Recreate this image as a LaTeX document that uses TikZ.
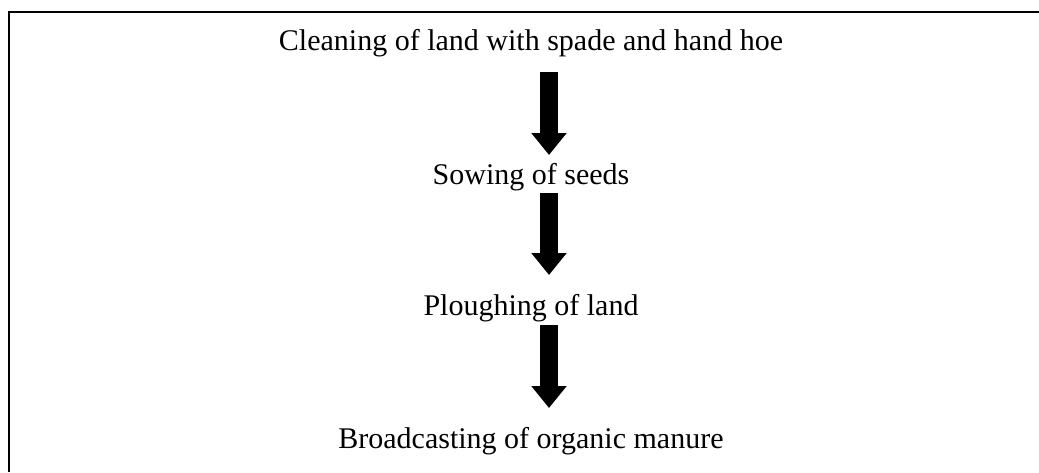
\documentclass[tikz,border=0pt]{standalone}
\usepackage{fontspec}
\setmainfont{Liberation Serif}
\usetikzlibrary{arrows.meta}
\begin{document}
\begin{tikzpicture}[x=1pt,y=-1pt,
  steptext/.style={anchor=base, inner sep=0pt, font=\fontsize{30}{36}\selectfont},
  bigarrow/.style={line width=18pt, -{Triangle[width=34pt,length=22pt]}}]
\useasboundingbox (0,0) rectangle (1039,472);
\fill[white] (0,0) rectangle (1039,472);
\draw[line width=2pt] (9,472) -- (9,12) -- (1039,12);
\node[steptext] (s1) at (531,50) {Cleaning of land with spade and hand hoe};
\node[steptext] (s2) at (531,184) {Sowing of seeds};
\node[steptext] (s3) at (531,315) {Ploughing of land};
\node[steptext] (s4) at (531,448) {Broadcasting of organic manure};
\coordinate (a1s) at (549,72);  \coordinate (a1e) at (549,155);
\coordinate (a2s) at (549,193); \coordinate (a2e) at (549,275);
\coordinate (a3s) at (549,325); \coordinate (a3e) at (549,408);
\draw[bigarrow] (a1s) -- (a1e);
\draw[bigarrow] (a2s) -- (a2e);
\draw[bigarrow] (a3s) -- (a3e);
\end{tikzpicture}
\end{document}
